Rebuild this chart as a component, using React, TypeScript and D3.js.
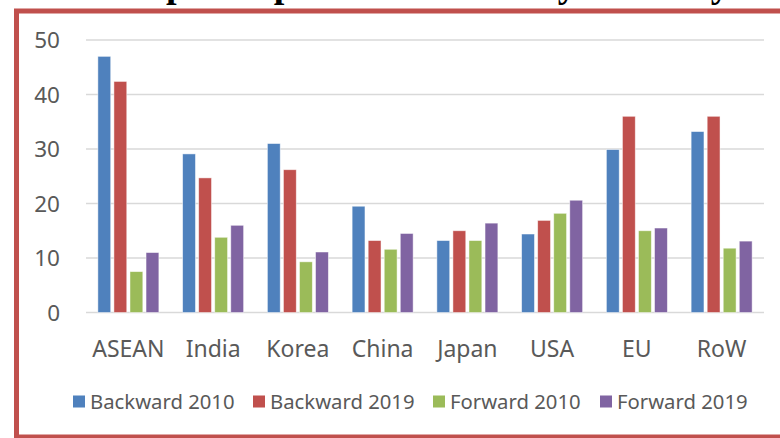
import React from "react";
import * as d3 from "d3";

const categories = ["ASEAN", "India", "Korea", "China", "Japan", "USA", "EU", "RoW"];
const seriesNames = ["Backward 2010", "Backward 2019", "Forward 2010", "Forward 2019"];
const backward2010 = [47.0, 29.1, 31.0, 19.5, 13.2, 14.4, 29.9, 33.2];
const backward2019 = [42.4, 24.7, 26.2, 13.2, 15.0, 16.9, 36.0, 36.0];
const forward2010 = [7.5, 13.8, 9.3, 11.6, 13.2, 18.2, 15.0, 11.8];
const forward2019 = [11.0, 16.0, 11.1, 14.5, 16.4, 20.6, 15.5, 13.1];
const yTicks = [0, 10, 20, 30, 40, 50];
const colors = ["#4F81BD", "#C0504D", "#9BBB59", "#8064A2"];

const W = 780;
const H = 438;

export default function App() {
  const seriesValues = [backward2010, backward2019, forward2010, forward2019];
  const x = d3.scaleBand<string>().domain(categories).range([86, 764]).padding(0);
  const inner = d3
    .scaleBand<string>()
    .domain(seriesNames)
    .range([0, 61])
    .paddingInner(0.2)
    .paddingOuter(0);
  const y = d3.scaleLinear().domain([0, 50]).range([312.5, 40]);
  const font = "'Noto Sans', 'Open Sans', sans-serif";
  const legendX = [73, 253, 433, 600];

  return (
    <svg width={W} height={H} style={{ position: "absolute", left: 0, top: 0, background: "#fff" }}>
      <rect x={0} y={0} width={W} height={H} fill="#fff" />
      <text fontFamily="'Liberation Serif', 'Times New Roman', serif" fontWeight="bold" fontSize={38} fill="#000" y={-3}>
        <tspan x={156} textAnchor="end">Backward and forward</tspan>
        <tspan x={166}>participation in GVCs by economy</tspan>
      </text>
      <rect x={16.5} y={11} width={800} height={426} fill="#fff" stroke="#C0504D" strokeWidth={5} />
      {yTicks.map((t) => (
        <g key={t}>
          <line x1={86} x2={764} y1={y(t)} y2={y(t)} stroke="#D9D9D9" strokeWidth={1.5} />
          <text x={60} y={y(t) + 8} textAnchor="end" fontFamily={font} fontSize={22.5} fill="#595959">
            {t}
          </text>
        </g>
      ))}
      {categories.map((c, i) => (
        <g key={c} transform={`translate(${x(c)! + (x.bandwidth() - 61) / 2},0)`}>
          {seriesNames.map((s, j) => {
            const v = seriesValues[j][i];
            return (
              <rect
                key={s}
                x={inner(s)!}
                y={y(v)}
                width={inner.bandwidth()}
                height={y(0) - y(v)}
                fill={colors[j]}
                stroke="#ffffff"
                strokeOpacity={0.6}
                strokeWidth={0.8}
              />
            );
          })}
        </g>
      ))}
      {categories.map((c) => (
        <text
          key={c}
          x={x(c)! + x.bandwidth() / 2}
          y={357}
          textAnchor="middle"
          fontFamily={font}
          fontSize={23}
          fill="#595959"
        >
          {c}
        </text>
      ))}
      {seriesNames.map((s, j) => (
        <g key={s}>
          <rect x={legendX[j]} y={395.5} width={12} height={12} fill={colors[j]} />
          <text x={legendX[j] + 17} y={409} fontFamily={font} fontSize={20.3} fill="#595959">
            {s}
          </text>
        </g>
      ))}
    </svg>
  );
}
